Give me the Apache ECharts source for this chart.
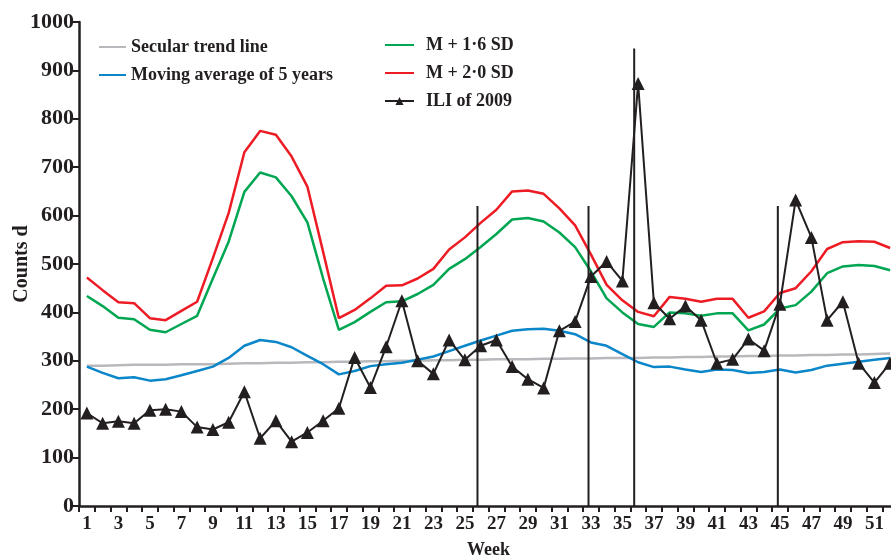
<!DOCTYPE html>
<html><head><meta charset="utf-8">
<script src="https://cdn.jsdelivr.net/npm/echarts@6/dist/echarts.min.js"></script>
<style>html,body{margin:0;padding:0;background:#fff}#c{width:891px;height:557px}</style>
</head><body><div id="c"></div>
<script>
var weeks = [];
for (var i = 1; i <= 52; i++) weeks.push(String(i));
var secular = [290,290,291,292,292,292,293,293,293,294,295,295,296,296,297,297,298,298,299,299,300,300,301,301,302,302,303,303,303,304,304,305,305,306,306,306,307,307,308,308,309,309,310,310,311,311,312,312,313,313,314,315];
var movingAvg = [288,275,264,266,259,262,270,279,288,306,331,343,339,328,310,293,272,279,289,293,296,302,309,320,331,342,352,362,365,366,362,355,338,331,314,297,287,288,282,277,282,281,275,277,282,276,281,290,294,298,302,306];
var m16 = [434,413,389,386,364,359,376,393,470,546,649,689,679,640,586,470,364,380,401,421,423,438,457,490,510,535,562,592,595,588,565,535,485,429,400,376,370,400,398,393,398,398,363,375,408,415,443,481,495,498,496,487];
var m20 = [472,446,421,419,388,384,403,422,512,605,731,775,767,722,660,525,388,405,429,455,456,470,490,530,555,585,612,650,652,645,615,580,520,457,425,401,392,432,428,422,428,428,389,402,440,450,485,531,545,547,546,533];
var ili = [192,171,175,171,198,200,195,163,158,173,236,140,176,133,152,176,202,307,245,329,424,300,273,343,302,331,343,288,262,244,362,381,474,505,465,873,420,387,413,384,295,303,345,321,417,632,555,384,422,295,255,295];
var markerNames = ['Ip','Lc','Sc','Pk'];
var markerWeeks = [25.8, 32.85, 35.75, 44.87];
var markerTops = [620, 620, 945, 620];

var font = 'Liberation Serif';
var ink = '#231f20';
var series = [
  {name:'Secular trend line', type:'line', data:secular, symbol:'none', lineStyle:{color:'#b9b9bd', width:2.5}, itemStyle:{color:'#b9b9bd'}, z:2},
  {name:'Moving average of 5 years', type:'line', data:movingAvg, symbol:'none', lineStyle:{color:'#0a86c9', width:2.5}, itemStyle:{color:'#0a86c9'}, z:3},
  {name:'M + 1·6 SD', type:'line', data:m16, symbol:'none', lineStyle:{color:'#00a651', width:2.5}, itemStyle:{color:'#00a651'}, z:3},
  {name:'M + 2·0 SD', type:'line', data:m20, symbol:'none', lineStyle:{color:'#ed1c24', width:2.5}, itemStyle:{color:'#ed1c24'}, z:3},
  {name:'ILI of 2009', type:'line', data:ili, symbol:'triangle', symbolSize:13, showAllSymbol:true, lineStyle:{color:ink, width:2}, itemStyle:{color:ink}, z:5}
];
markerNames.forEach(function(n, k){
  series.push({
    type:'line', xAxisIndex:1, symbol:'none', silent:true, z:4,
    lineStyle:{color:ink, width:2},
    data:[[markerWeeks[k],0],{value:[markerWeeks[k],markerTops[k]], label:{show:true, position:'top', formatter:n, distance:4, fontFamily:font, fontWeight:'bold', fontSize:19, color:ink}}]
  });
});

var legText = {fontFamily:font, fontWeight:'bold', fontSize:18, color:ink};
var noSym = {opacity:0};
var chart = echarts.init(document.getElementById('c'));
chart.setOption({
  animation:false,
  backgroundColor:'#fff',
  grid:{left:79, top:22, bottom:51, width:819, containLabel:false, outerBoundsMode:'none'},
  legend:[
    {data:[{name:'Secular trend line', itemStyle:noSym},{name:'Moving average of 5 years', itemStyle:noSym}], orient:'vertical', left:93, top:33, itemWidth:27, itemHeight:10, itemGap:10,
     textStyle:legText},
    {data:[{name:'M + 1·6 SD', itemStyle:noSym},{name:'M + 2·0 SD', itemStyle:noSym},'ILI of 2009'], orient:'vertical', left:379, top:31, itemWidth:29, itemHeight:10, itemGap:10,
     textStyle:Object.assign({padding:[0,0,0,7]}, legText)}
  ],
  xAxis:[
    {type:'category', data:weeks, boundaryGap:true,
     name:'Week', nameLocation:'middle', nameGap:35, nameMoveOverlap:false, nameTextStyle:{fontFamily:font, fontWeight:'bold', fontSize:18, color:ink},
     axisLine:{lineStyle:{color:ink, width:2.5}},
     axisTick:{show:true, interval:0, length:6, lineStyle:{color:ink, width:2}},
     axisLabel:{interval:1, margin:9, fontFamily:font, fontWeight:'bold', fontSize:19, color:ink},
     splitLine:{show:false}},
    {type:'value', min:0.5, max:52.5, show:false}
  ],
  yAxis:{type:'value', min:0, max:1000, interval:100,
     name:'Counts d', nameLocation:'middle', nameGap:47, nameMoveOverlap:false, nameRotate:90, nameTextStyle:{fontFamily:font, fontWeight:'bold', fontSize:20, color:ink},
     axisLine:{show:true, lineStyle:{color:ink, width:2.5}},
     axisTick:{show:true, length:6, lineStyle:{color:ink, width:2}},
     axisLabel:{margin:5, fontFamily:font, fontWeight:'bold', fontSize:22, color:ink, formatter:function(v){return String(v);}},
     splitLine:{show:false}},
  series:series
});
</script></body></html>
